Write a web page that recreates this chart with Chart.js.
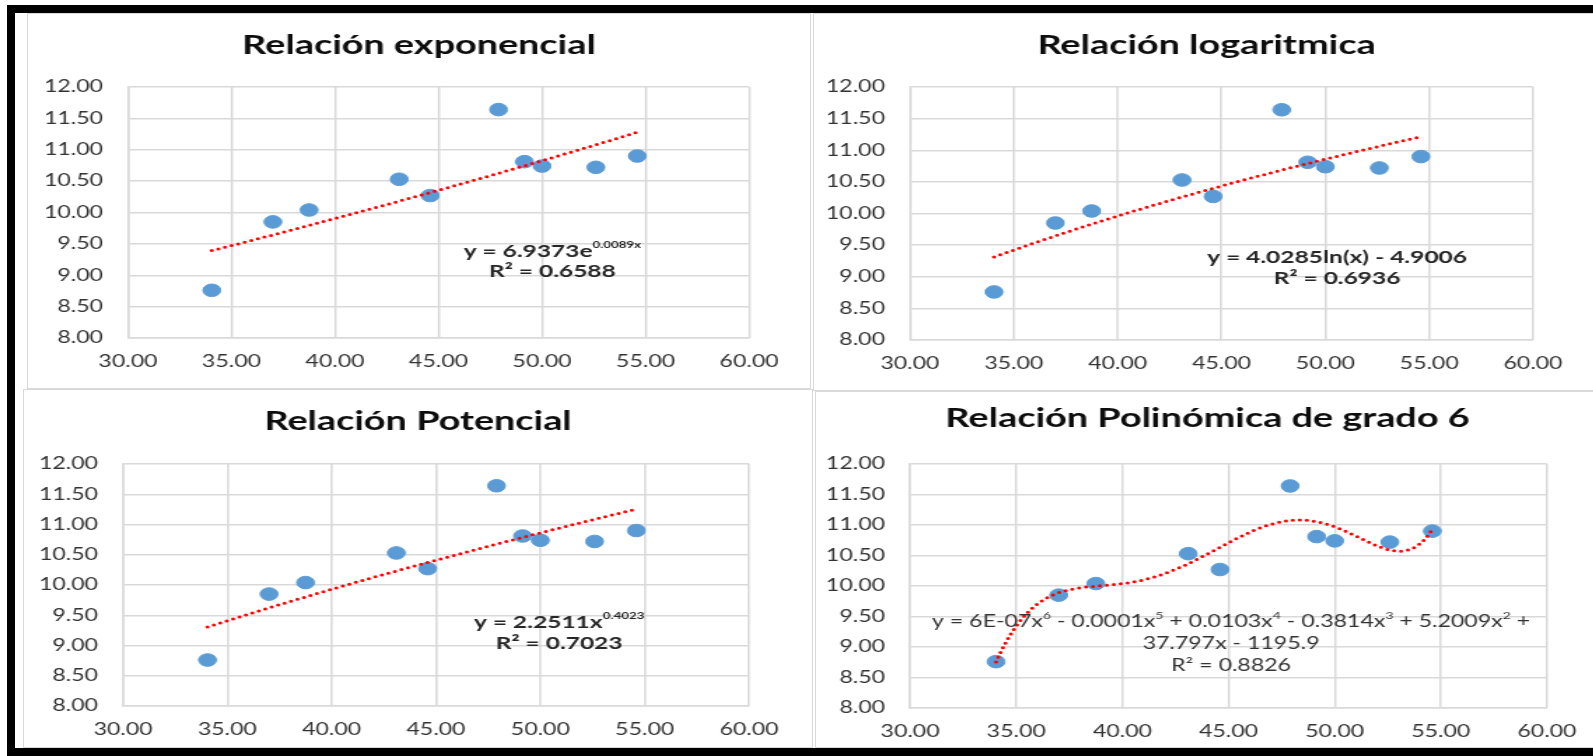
<!DOCTYPE html>
<html>
<head>
<meta charset="utf-8">
<title>Relaciones</title>
<script src="https://cdn.jsdelivr.net/npm/chart.js@4.4.1/dist/chart.umd.min.js"></script>
<style>
  html, body { margin: 0; padding: 0; background: #fff; width: 1593px; height: 756px; overflow: hidden; }
  .frame { position: absolute; left: 7px; top: 5px; width: 1600px; height: 735px;
           border-top: 8px solid #000; border-left: 8px solid #000; border-bottom: 8px solid #000;
           z-index: 5; pointer-events: none; }
  .panel { position: absolute; box-sizing: border-box; border: 1px solid #d9d9d9; background: #fff; }
  .panel canvas { position: absolute; left: 0; top: 0; }
</style>
</head>
<body>
<div class="frame"></div>
<div class="panel" id="p0"><canvas id="c0"></canvas></div>
<div class="panel" id="p1"><canvas id="c1"></canvas></div>
<div class="panel" id="p2"><canvas id="c2"></canvas></div>
<div class="panel" id="p3"><canvas id="c3"></canvas></div>
<script>
// datos
const xValues = [34.05, 37.0, 38.75, 43.1, 44.6, 47.9, 49.15, 50.0, 52.6, 54.6];
const yValues = [8.76, 9.85, 10.04, 10.53, 10.27, 11.64, 10.81, 10.74, 10.72, 10.90];
const xTicks = [30, 35, 40, 45, 50, 55, 60];
const yTicks = [8, 8.5, 9, 9.5, 10, 10.5, 11, 11.5, 12];
const titles = ['Relación exponencial', 'Relación logaritmica', 'Relación Potencial', 'Relación Polinómica de grado 6'];

// coeficientes de las lineas de tendencia (etiquetas del grafico)
const expCoef = [6.9373, 0.0089];
const logCoef = [4.0285, -4.9006];
const powCoef = [2.2511, 0.4023];
const polyDegree = 6;

// etiquetas de ecuacion: lineas -> [texto, superindice]
const eqExp = [[['y = 6.9373e'], ['0.0089x', 1]], [['R² = 0.6588']]];
const eqLog = [[['y = 4.0285ln(x) - 4.9006']], [['R² = 0.6936']]];
const eqPow = [[['y = 2.2511x'], ['0.4023', 1]], [['R² = 0.7023']]];
const eqPoly = [
  [['y = 6E-07x'], ['6', 1], [' - 0.0001x'], ['5', 1], [' + 0.0103x'], ['4', 1], [' - 0.3814x'], ['3', 1], [' + 5.2009x'], ['2', 1], [' +']],
  [['37.797x - 1195.9']],
  [['R² = 0.8826']]
];

const S = 1.4; // la imagen original esta estirada en horizontal
const FONT = 'Lato';

function polyFit(xs, ys, deg) {
  const c = xs.reduce((a, b) => a + b, 0) / xs.length;
  const n = deg + 1;
  const M = Array.from({length: n}, () => new Array(n + 1).fill(0));
  xs.forEach((xv, k) => {
    const t = (xv - c) / 10;
    const pw = [];
    for (let j = 0; j < n; j++) pw.push(Math.pow(t, j));
    for (let r = 0; r < n; r++) {
      for (let q = 0; q < n; q++) M[r][q] += pw[r] * pw[q];
      M[r][n] += pw[r] * ys[k];
    }
  });
  for (let col = 0; col < n; col++) {
    let piv = col;
    for (let r = col + 1; r < n; r++) if (Math.abs(M[r][col]) > Math.abs(M[piv][col])) piv = r;
    [M[col], M[piv]] = [M[piv], M[col]];
    for (let r = 0; r < n; r++) {
      if (r === col) continue;
      const f = M[r][col] / M[col][col];
      for (let q = col; q <= n; q++) M[r][q] -= f * M[col][q];
    }
  }
  const coef = M.map((row, i) => row[n] / row[i]);
  return x => {
    const t = (x - c) / 10;
    let s = 0;
    for (let j = n - 1; j >= 0; j--) s = s * t + coef[j];
    return s;
  };
}

const fits = [
  x => expCoef[0] * Math.exp(expCoef[1] * x),
  x => logCoef[0] * Math.log(x) + logCoef[1],
  x => powCoef[0] * Math.pow(x, powCoef[1]),
  polyFit(xValues, yValues, polyDegree)
];

// posiciones en pixeles de pagina: caja del panel, area de trazado, centro del titulo, etiqueta
const panels = [
  { box: [27, 13, 811, 389],  plot: [128, 87, 749, 338], titleY: 45,  eq: eqExp,  at: [50.5, 9.38],  gap: 20, bold: true },
  { box: [813, 13, 1600, 391], plot: [910, 87, 1533, 340], titleY: 45, eq: eqLog,  at: [50.56, 9.31], gap: 21, bold: true },
  { box: [23, 389, 813, 748], plot: [123, 464, 749, 706], titleY: 421, eq: eqPow,  at: [50.9, 9.39],  gap: 21, bold: true },
  { box: [815, 391, 1600, 748], plot: [910, 464, 1547, 708], titleY: 418, eq: eqPoly, at: [45.12, 9.41], gap: 22, bold: false }
];

function build(i) {
  const p = panels[i];
  const [bl, bt, br, bb] = p.box;
  const [pl, pt, pr, pb] = p.plot;
  const div = document.getElementById('p' + i);
  div.style.left = bl + 'px';
  div.style.top = bt + 'px';
  div.style.width = (br - bl) + 'px';
  div.style.height = (bb - bt) + 'px';

  const ox = bl + 1, oy = bt + 1;
  const W = br - bl - 2, H = bb - bt - 2;
  const cv = document.getElementById('c' + i);
  cv.width = Math.round(W / S);
  cv.height = H;
  cv.style.width = W + 'px';
  cv.style.height = H + 'px';

  const yAxisW = (pl - ox) / S;
  const rightPad = (ox + W - pr) / S;
  const xAxisH = oy + H - pb;
  const tSize = 27, tLine = tSize * 1.2;
  const tTop = p.titleY - oy - tLine / 2;
  const tBottom = pt - oy - tTop - tLine;

  const points = xValues.map((x, k) => ({x: x, y: yValues[k]}));
  const lo = Math.min(...xValues), hi = Math.max(...xValues);
  const trend = [];
  for (let k = 0; k <= 160; k++) {
    const x = lo + (hi - lo) * k / 160;
    trend.push({x: x, y: fits[i](x)});
  }

  const eqPlugin = {
    id: 'eq' + i,
    afterDatasetsDraw(chart) {
      const {ctx, scales} = chart;
      const cx = scales.x.getPixelForValue(p.at[0]);
      const cy = scales.y.getPixelForValue(p.at[1]);
      const f = p.bold ? 'bold 17.5px ' + FONT : '16.5px ' + FONT;
      const fs = p.bold ? 'bold 9.5px ' + FONT : '10px ' + FONT;
      ctx.save();
      ctx.fillStyle = p.bold ? '#262626' : '#333';
      ctx.textBaseline = 'middle';
      ctx.textAlign = 'left';
      p.eq.forEach((line, k) => {
        let w = 0;
        const parts = line.map(seg => {
          ctx.font = seg[1] ? fs : f;
          const m = ctx.measureText(seg[0]).width;
          w += m;
          return {t: seg[0], sup: seg[1], m: m};
        });
        let px = cx - w / 2;
        const ly = cy + k * p.gap;
        parts.forEach(s => {
          ctx.font = s.sup ? fs : f;
          ctx.fillText(s.t, px, s.sup ? ly - 6 : ly);
          px += s.m;
        });
      });
      ctx.restore();
    }
  };

  const tickFont = {family: FONT, size: 16.5};
  new Chart(cv, {
    type: 'scatter',
    data: {
      datasets: [
        { data: trend, showLine: true, borderColor: '#ff0000', borderWidth: 3, borderDash: [0, 5],
          borderCapStyle: 'round', pointRadius: 0, fill: false, order: 0 },
        { data: points, backgroundColor: '#5b9bd5', borderColor: '#5b9bd5', pointRadius: 6.3, order: 1 }
      ]
    },
    options: {
      responsive: false,
      animation: false,
      layout: { padding: 0 },
      plugins: {
        legend: { display: false },
        tooltip: { enabled: false },
        title: { display: true, text: titles[i], color: '#0d0d0d',
                 font: { family: FONT, size: tSize, weight: 'bold', lineHeight: 1.2 },
                 padding: { top: tTop, bottom: tBottom } }
      },
      scales: {
        x: {
          type: 'linear', min: 30, max: 60,
          afterBuildTicks: s => { s.ticks = xTicks.map(v => ({value: v})); },
          ticks: { callback: v => v.toFixed(2), color: '#333', font: tickFont, padding: 14, maxRotation: 0, autoSkip: false },
          grid: { color: '#d9d9d9', lineWidth: 1.5, drawTicks: false },
          border: { color: '#d9d9d9', width: 1.5 },
          afterFit: s => { s.height = xAxisH; s.paddingLeft = 0; s.paddingRight = rightPad; }
        },
        y: {
          type: 'linear', min: 8, max: 12,
          afterBuildTicks: s => { s.ticks = yTicks.map(v => ({value: v})); },
          ticks: { callback: v => v.toFixed(2), color: '#333', font: tickFont, padding: 25 / S, autoSkip: false },
          grid: { color: '#d9d9d9', lineWidth: 1.5, drawTicks: false },
          border: { color: '#d9d9d9', width: 1.5 },
          afterFit: s => { s.width = yAxisW; s.paddingTop = 0; s.paddingBottom = 0; }
        }
      }
    },
    plugins: [eqPlugin]
  });
}

panels.forEach((p, i) => build(i));
</script>
</body>
</html>
